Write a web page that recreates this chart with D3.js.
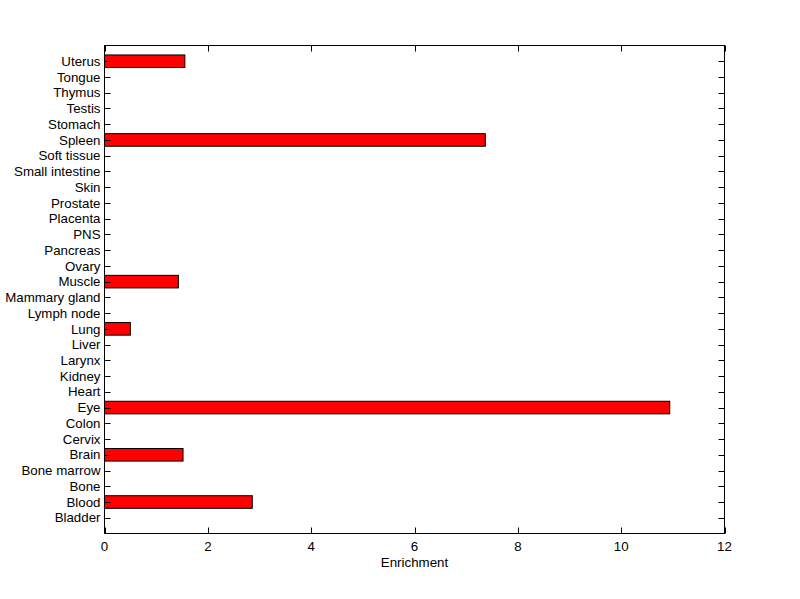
<!DOCTYPE html>
<html><head><meta charset="utf-8">
<script src="https://cdn.jsdelivr.net/npm/d3@7"></script>
<style>body{margin:0;background:#fff}svg{display:block}text{font-family:"Liberation Sans",Arial,sans-serif;font-size:13.3px;fill:#000}</style>
</head><body><svg id="c" width="800" height="599"></svg>
<script>
const categories = ["Bladder","Blood","Bone","Bone marrow","Brain","Cervix","Colon","Eye","Heart","Kidney","Larynx","Liver","Lung","Lymph node","Mammary gland","Muscle","Ovary","Pancreas","PNS","Placenta","Prostate","Skin","Small intestine","Soft tissue","Spleen","Stomach","Testis","Thymus","Tongue","Uterus"];
const values = [0,2.86,0,0,1.52,0,0,10.94,0,0,0,0,0.5,0,0,1.43,0,0,0,0,0,0,0,0,7.37,0,0,0,0,1.555];
const xTicks = [0,2,4,6,8,10,12];
const xLabel = "Enrichment";

const svg = d3.select("#c");
const L=104.5, R=724.5, T=45.5, B=533.5;
const x = d3.scaleLinear().domain([0,12]).range([L,R]);
const y = d3.scaleLinear().domain([0,categories.length+1]).range([B,T]);
const bh = 0.8*(B-T)/(categories.length+1);

const rows = categories.map((c,i)=>({c, v:values[i], pos:i+1}));

svg.selectAll("rect.bar").data(rows.filter(r=>r.v>0)).join("rect").attr("class","bar")
  .attr("x",x(0)).attr("y",d=>y(d.pos)-bh/2).attr("width",d=>x(d.v)-x(0)).attr("height",bh)
  .attr("fill","#ff0000").attr("stroke","#000").attr("stroke-width",1);

const tl=6;
svg.append("g").selectAll("path").data(rows).join("path")
  .attr("d",d=>`M${L},${Math.round(y(d.pos))+0.5}h${tl}M${R},${Math.round(y(d.pos))+0.5}h${-tl}`).attr("stroke","#000");
svg.append("g").selectAll("text").data(rows).join("text")
  .attr("x",L-4).attr("y",d=>y(d.pos)).attr("dy","0.35em").attr("text-anchor","end").text(d=>d.c);
svg.append("g").selectAll("path").data(xTicks).join("path")
  .attr("d",d=>`M${Math.round(x(d))+0.5},${B}v${-tl}M${Math.round(x(d))+0.5},${T}v${tl}`).attr("stroke","#000");
svg.append("g").selectAll("text").data(xTicks).join("text")
  .attr("x",d=>x(d)).attr("y",B+17).attr("text-anchor","middle").text(d=>d);
svg.append("text").attr("x",(L+R)/2).attr("y",B+33).attr("text-anchor","middle").text(xLabel);

svg.append("rect").attr("x",L).attr("y",T).attr("width",R-L).attr("height",B-T).attr("fill","none").attr("stroke","#000");
</script></body></html>
